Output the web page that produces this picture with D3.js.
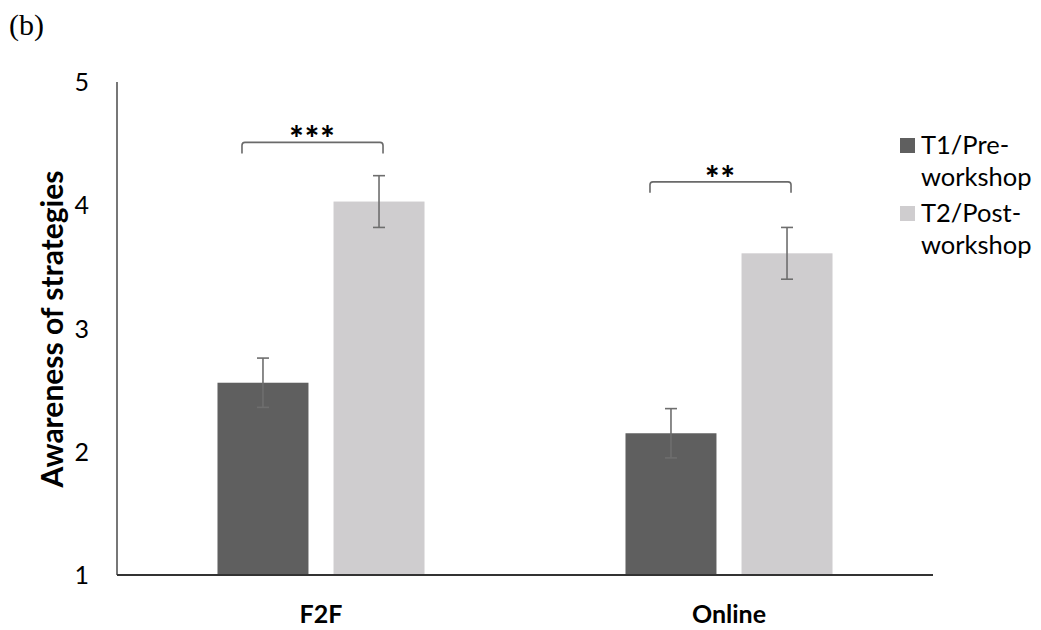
<!DOCTYPE html>
<html>
<head>
<meta charset="utf-8">
<script src="https://cdn.jsdelivr.net/npm/d3@7"></script>
<style>
  html, body { margin: 0; padding: 0; background: #fff; }
  svg { display: block; }
  text { font-family: Lato, "Open Sans", sans-serif; fill: #000; }
</style>
</head>
<body>
<svg id="chart" width="1041" height="630"></svg>
<script>
// ---- data ----
const categories = ["F2F", "Online"];
const seriesNames = ["T1/Pre-workshop", "T2/Post-workshop"];
const legendLines = [["T1/Pre-", "workshop"], ["T2/Post-", "workshop"]];
const t1Values = [2.56, 2.15];
const t2Values = [4.03, 3.61];
const t1Errors = [0.20, 0.20];
const t2Errors = [0.21, 0.21];
const yTicks = [1, 2, 3, 4, 5];
const sigLabels = ["***", "**"];
const sigLevels = [4.51, 4.19];
const panelLabel = "(b)";
const yTitle = "Awareness of strategies";

const colors = ["#5f5f5f", "#cfcdcf"];

const svg = d3.select("#chart");

const y = d3.scaleLinear().domain([1, 5]).range([575, 82]);
const x0 = d3.scaleBand().domain(categories).range([117, 933]).paddingInner(0).paddingOuter(0);
const bw = x0.bandwidth();
const x1 = d3.scaleBand().domain(seriesNames).range([bw * 0.2463, bw * 0.7537]).paddingInner(0.216).paddingOuter(0);

const rows = categories.map((c, i) => ({
  cat: c,
  vals: [
    { s: seriesNames[0], v: t1Values[i], e: t1Errors[i], k: 0 },
    { s: seriesNames[1], v: t2Values[i], e: t2Errors[i], k: 1 }
  ]
}));

// panel label
svg.append("text")
  .attr("x", 9).attr("y", 35)
  .style("font-family", "'Liberation Serif', 'Times New Roman', serif")
  .style("font-size", "30px")
  .text(panelLabel);

// bars
const g = svg.selectAll("g.cat").data(rows).enter().append("g")
  .attr("class", "cat")
  .attr("transform", d => `translate(${x0(d.cat)},0)`);

g.selectAll("rect").data(d => d.vals).enter().append("rect")
  .attr("x", d => x1(d.s))
  .attr("width", x1.bandwidth())
  .attr("y", d => y(d.v))
  .attr("height", d => y(1) - y(d.v))
  .attr("fill", d => colors[d.k]);

// error bars
const eb = g.selectAll("g.err").data(d => d.vals).enter().append("g").attr("class", "err")
  .attr("stroke", "#6e6e6e").attr("stroke-width", 1.6).attr("fill", "none");
eb.append("line")
  .attr("x1", d => x1(d.s) + x1.bandwidth() / 2).attr("x2", d => x1(d.s) + x1.bandwidth() / 2)
  .attr("y1", d => y(d.v + d.e)).attr("y2", d => y(d.v - d.e));
eb.append("line")
  .attr("x1", d => x1(d.s) + x1.bandwidth() / 2 - 6).attr("x2", d => x1(d.s) + x1.bandwidth() / 2 + 6)
  .attr("y1", d => y(d.v + d.e)).attr("y2", d => y(d.v + d.e));
eb.append("line")
  .attr("x1", d => x1(d.s) + x1.bandwidth() / 2 - 6).attr("x2", d => x1(d.s) + x1.bandwidth() / 2 + 6)
  .attr("y1", d => y(d.v - d.e)).attr("y2", d => y(d.v - d.e));

// significance brackets
g.each(function(d, i) {
  const gg = d3.select(this);
  const xl = x1(seriesNames[0]) + x1.bandwidth() / 2 - 21;
  const xr = x1(seriesNames[1]) + x1.bandwidth() / 2 + 4;
  const yb = y(sigLevels[i]);
  const r = 3, drop = 11;
  gg.append("path")
    .attr("d", `M${xl},${yb + drop} L${xl},${yb + r} Q${xl},${yb} ${xl + r},${yb} L${xr - r},${yb} Q${xr},${yb} ${xr},${yb + r} L${xr},${yb + drop}`)
    .attr("fill", "none").attr("stroke", "#6a6a6a").attr("stroke-width", 1.6);
  gg.append("text")
    .attr("x", (xl + xr) / 2).attr("y", yb + 9)
    .attr("text-anchor", "middle")
    .style("font-size", "34px").style("font-weight", "900")
    .style("letter-spacing", "1px")
    .text(sigLabels[i]);
});

// axes
svg.append("line").attr("x1", 117).attr("x2", 117).attr("y1", y(5)).attr("y2", y(1))
  .attr("stroke", "#555").attr("stroke-width", 1.6);
svg.append("line").attr("x1", 117).attr("x2", 933).attr("y1", y(1)).attr("y2", y(1))
  .attr("stroke", "#333").attr("stroke-width", 2);

// y tick labels
svg.selectAll("text.ytick").data(yTicks).enter().append("text")
  .attr("class", "ytick")
  .attr("x", 89).attr("y", d => y(d)).attr("dy", "0.36em")
  .attr("text-anchor", "end")
  .style("font-size", "25px")
  .text(d => d);

// x labels
svg.selectAll("text.xlab").data(categories).enter().append("text")
  .attr("class", "xlab")
  .attr("x", d => x0(d) + bw / 2).attr("y", 623)
  .attr("text-anchor", "middle")
  .style("font-size", "25px").style("font-weight", "bold")
  .text(d => d);

// y title
svg.append("text")
  .attr("transform", "translate(63,329) rotate(-90)")
  .attr("text-anchor", "middle")
  .style("font-size", "30px").style("font-weight", "bold")
  .text(yTitle);

// legend
const leg = svg.selectAll("g.leg").data(seriesNames).enter().append("g")
  .attr("class", "leg")
  .attr("transform", (d, i) => `translate(900,${138 + i * 68})`);
leg.append("rect").attr("width", 15).attr("height", 15).attr("fill", (d, i) => colors[i]);
leg.each(function(d, i) {
  const t = d3.select(this).append("text").attr("x", 21).attr("y", 16).style("font-size", "25.5px");
  legendLines[i].forEach((ln, j) => {
    t.append("tspan").attr("x", 21).attr("dy", j === 0 ? 0 : 32).text(ln);
  });
});
</script>
</body>
</html>
